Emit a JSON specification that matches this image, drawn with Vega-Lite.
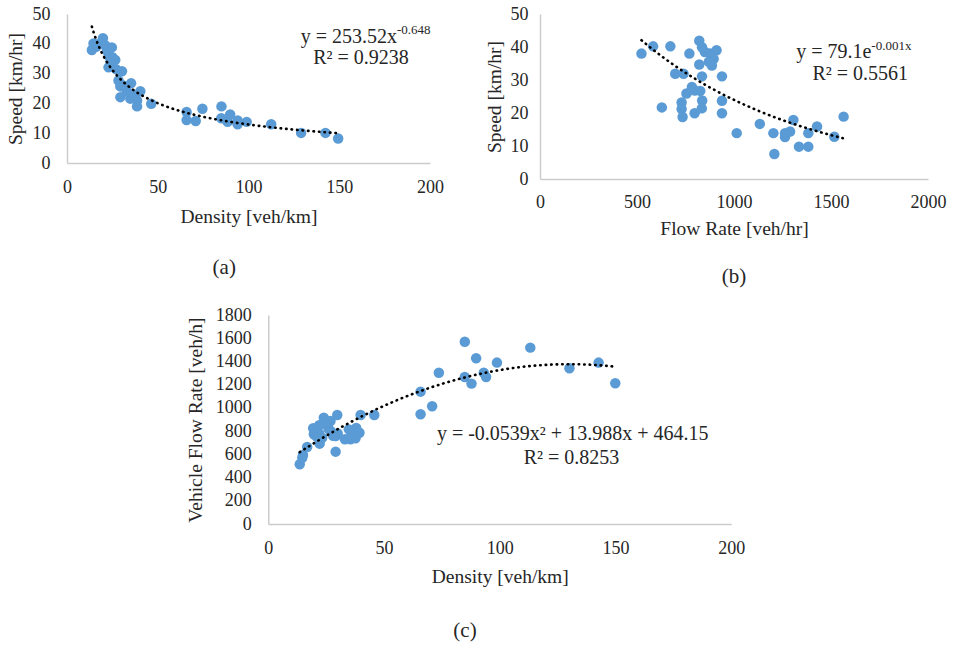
{
  "$schema": "https://vega.github.io/schema/vega-lite/v6.json",
  "padding": 5,
  "config": {
    "view": {"stroke": null},
    "font": "Liberation Serif",
    "axis": {"grid": false, "ticks": false, "tickSize": 0, "domainColor": "#cccccc", "domainWidth": 1.5, "labelFont": "Liberation Serif", "titleFont": "Liberation Serif", "labelFontSize": 18, "titleFontSize": 19.5, "titleFontWeight": "normal", "labelColor": "#262626", "titleColor": "#262626", "format": "d", "labelFlush": false, "labelBound": false},
    "title": {"font": "Liberation Serif", "fontSize": 21, "fontWeight": "normal", "color": "#262626"},
    "text": {"font": "Liberation Serif", "color": "#262626"}
  },
  "datasets": {
    "a": [
      {"density": 13.7, "speed": 37.9}, {"density": 14.6, "speed": 40.1}, {"density": 16, "speed": 39}, {"density": 19.8, "speed": 41.9},
      {"density": 18, "speed": 40}, {"density": 21, "speed": 39.5}, {"density": 22, "speed": 37.7}, {"density": 24.7, "speed": 38.8},
      {"density": 23, "speed": 36}, {"density": 25, "speed": 35.5}, {"density": 26.6, "speed": 34.6}, {"density": 24, "speed": 34},
      {"density": 22.9, "speed": 32.1}, {"density": 25, "speed": 32.5}, {"density": 27, "speed": 31.5}, {"density": 30.3, "speed": 30.8},
      {"density": 28.4, "speed": 27.7}, {"density": 29.4, "speed": 25.7}, {"density": 31, "speed": 26}, {"density": 33, "speed": 24},
      {"density": 35.3, "speed": 26.8}, {"density": 36, "speed": 23}, {"density": 40.4, "speed": 24.1}, {"density": 29.4, "speed": 22.1},
      {"density": 34.9, "speed": 21.6}, {"density": 37, "speed": 22}, {"density": 38.6, "speed": 19}, {"density": 38.6, "speed": 21},
      {"density": 46.4, "speed": 19.9}, {"density": 65.9, "speed": 17.1}, {"density": 65.9, "speed": 14.4}, {"density": 70.9, "speed": 14.1},
      {"density": 74.6, "speed": 18.2}, {"density": 85.1, "speed": 19}, {"density": 85, "speed": 15}, {"density": 89.9, "speed": 16.3},
      {"density": 88.5, "speed": 13.8}, {"density": 94, "speed": 13}, {"density": 94, "speed": 14.3}, {"density": 99, "speed": 13.8},
      {"density": 112.5, "speed": 13}, {"density": 129, "speed": 10.1}, {"density": 142.4, "speed": 10.1}, {"density": 149.4, "speed": 8.2}
    ],
    "b": [
      {"flow": 523, "speed": 38}, {"flow": 583, "speed": 40.2}, {"flow": 672, "speed": 40.2}, {"flow": 770, "speed": 38},
      {"flow": 821, "speed": 41.9}, {"flow": 835, "speed": 39.9}, {"flow": 850, "speed": 38.5}, {"flow": 877, "speed": 38},
      {"flow": 910, "speed": 39}, {"flow": 895, "speed": 36.4}, {"flow": 886, "speed": 34.4}, {"flow": 870, "speed": 35.5},
      {"flow": 821, "speed": 34.7}, {"flow": 697, "speed": 31.9}, {"flow": 740, "speed": 31.9}, {"flow": 835, "speed": 31.1},
      {"flow": 938, "speed": 31.1}, {"flow": 783, "speed": 27.9}, {"flow": 755, "speed": 25.9}, {"flow": 826, "speed": 26.7},
      {"flow": 798, "speed": 26.8}, {"flow": 938, "speed": 23.7}, {"flow": 836, "speed": 23.8}, {"flow": 730, "speed": 23.2},
      {"flow": 730, "speed": 21.2}, {"flow": 735, "speed": 18.8}, {"flow": 797, "speed": 19.9}, {"flow": 834, "speed": 21.4},
      {"flow": 938, "speed": 19.9}, {"flow": 628, "speed": 21.7}, {"flow": 1014, "speed": 13.9}, {"flow": 1133, "speed": 16.7},
      {"flow": 1203, "speed": 13.9}, {"flow": 1208, "speed": 7.6}, {"flow": 1263, "speed": 13.9}, {"flow": 1263, "speed": 12.7},
      {"flow": 1289, "speed": 14.4}, {"flow": 1306, "speed": 17.9}, {"flow": 1335, "speed": 9.8}, {"flow": 1383, "speed": 9.8},
      {"flow": 1383, "speed": 13.9}, {"flow": 1428, "speed": 15.9}, {"flow": 1517, "speed": 12.8}, {"flow": 1565, "speed": 18.9}
    ],
    "c": [
      {"density": 13.6, "flow": 514}, {"density": 14.7, "flow": 571}, {"density": 15, "flow": 594}, {"density": 16.8, "flow": 663},
      {"density": 19.4, "flow": 824}, {"density": 19.7, "flow": 773}, {"density": 20, "flow": 800}, {"density": 21, "flow": 750},
      {"density": 22.2, "flow": 692}, {"density": 22, "flow": 780}, {"density": 23.3, "flow": 743}, {"density": 22, "flow": 850},
      {"density": 24, "flow": 916}, {"density": 24, "flow": 870}, {"density": 25.5, "flow": 858}, {"density": 26.9, "flow": 887},
      {"density": 26, "flow": 820}, {"density": 27, "flow": 800}, {"density": 28, "flow": 760}, {"density": 29.8, "flow": 939},
      {"density": 29.1, "flow": 623}, {"density": 29.1, "flow": 758}, {"density": 30, "flow": 780}, {"density": 33.1, "flow": 729},
      {"density": 35.5, "flow": 729}, {"density": 34.8, "flow": 815}, {"density": 36, "flow": 770}, {"density": 37.7, "flow": 738},
      {"density": 38, "flow": 827}, {"density": 39.4, "flow": 786}, {"density": 39.9, "flow": 939}, {"density": 45.8, "flow": 939},
      {"density": 65.8, "flow": 1140}, {"density": 65.8, "flow": 945}, {"density": 70.8, "flow": 1014}, {"density": 73.7, "flow": 1303},
      {"density": 84.9, "flow": 1570}, {"density": 84.9, "flow": 1266}, {"density": 87.8, "flow": 1209}, {"density": 89.8, "flow": 1427},
      {"density": 93.1, "flow": 1303}, {"density": 94.1, "flow": 1266}, {"density": 98.8, "flow": 1390}, {"density": 113.2, "flow": 1519},
      {"density": 130.1, "flow": 1341}, {"density": 142.7, "flow": 1390}, {"density": 149.9, "flow": 1212}
    ]
  },
  "center": true,
  "spacing": 19,
  "vconcat": [
    {
      "spacing": 40,
      "hconcat": [
        {
          "width": 363, "height": 149,
          "title": {"text": "(a)", "orient": "bottom", "offset": 31, "frame": "bounds"},
          "data": {"name": "a"},
          "encoding": {
            "x": {"field": "density", "type": "quantitative", "scale": {"domain": [0, 200]}, "axis": {"title": "Density [veh/km]", "values": [0, 50, 100, 150, 200], "labelOverlap": {"signal": "false"}, "labelFlush": false, "labelPadding": 15, "titlePadding": 11}},
            "y": {"field": "speed", "type": "quantitative", "scale": {"domain": [0, 50]}, "axis": {"title": "Speed [km/hr]", "values": [0, 10, 20, 30, 40, 50], "labelOverlap": {"signal": "false"}, "labelFlush": false, "labelPadding": 17, "titlePadding": 7}}
          },
          "layer": [
            {
              "mark": {"type": "circle", "size": 110, "color": "#5B9BD5", "opacity": 1}
            },
            {
              "transform": [{"regression": "speed", "on": "density", "method": "pow"}],
              "mark": {"type": "line", "color": "black", "strokeWidth": 2.6, "strokeDash": [0.5, 5], "strokeCap": "round"}
            },
            {
              "mark": {"type": "text", "text": "y = 253.52x", "align": "right", "baseline": "middle", "fontSize": 20},
              "transform": [{"filter": "datum.density == 149.4"}],
              "encoding": {"x": {"datum": 181.8, "type": "quantitative"}, "y": {"datum": 42.4, "type": "quantitative"}}
            },
            {
              "mark": {"type": "text", "text": "-0.648", "align": "left", "baseline": "middle", "fontSize": 13},
              "transform": [{"filter": "datum.density == 149.4"}],
              "encoding": {"x": {"datum": 181.8, "type": "quantitative"}, "y": {"datum": 44.6, "type": "quantitative"}}
            },
            {
              "mark": {"type": "text", "text": "R² = 0.9238", "align": "center", "baseline": "middle", "fontSize": 20},
              "transform": [{"filter": "datum.density == 149.4"}],
              "encoding": {"x": {"datum": 162, "type": "quantitative"}, "y": {"datum": 35.3, "type": "quantitative"}}
            }
          ]
        },
        {
          "width": 388, "height": 165,
          "title": {"text": "(b)", "orient": "bottom", "offset": 28, "frame": "group"},
          "data": {"name": "b"},
          "encoding": {
            "x": {"field": "flow", "type": "quantitative", "scale": {"domain": [0, 2000]}, "axis": {"title": "Flow Rate [veh/hr]", "values": [0, 500, 1000, 1500, 2000], "labelOverlap": {"signal": "false"}, "labelFlush": false, "labelPadding": 14, "titlePadding": 8}},
            "y": {"field": "speed", "type": "quantitative", "scale": {"domain": [0, 50]}, "axis": {"title": "Speed [km/hr]", "values": [0, 10, 20, 30, 40, 50], "labelOverlap": {"signal": "false"}, "labelFlush": false, "labelPadding": 12, "titlePadding": 6}}
          },
          "layer": [
            {
              "mark": {"type": "circle", "size": 110, "color": "#5B9BD5", "opacity": 1}
            },
            {
              "transform": [{"regression": "speed", "on": "flow", "method": "exp"}],
              "mark": {"type": "line", "color": "black", "strokeWidth": 2.6, "strokeDash": [0.5, 5], "strokeCap": "round"}
            },
            {
              "mark": {"type": "text", "text": "y = 79.1e", "align": "right", "baseline": "middle", "fontSize": 20},
              "transform": [{"filter": "datum.flow == 1565"}],
              "encoding": {"x": {"datum": 1708, "type": "quantitative"}, "y": {"datum": 38.4, "type": "quantitative"}}
            },
            {
              "mark": {"type": "text", "text": "-0.001x", "align": "left", "baseline": "middle", "fontSize": 13},
              "transform": [{"filter": "datum.flow == 1565"}],
              "encoding": {"x": {"datum": 1708, "type": "quantitative"}, "y": {"datum": 40.3, "type": "quantitative"}}
            },
            {
              "mark": {"type": "text", "text": "R² = 0.5561", "align": "center", "baseline": "middle", "fontSize": 20},
              "transform": [{"filter": "datum.flow == 1565"}],
              "encoding": {"x": {"datum": 1651, "type": "quantitative"}, "y": {"datum": 31.8, "type": "quantitative"}}
            }
          ]
        }
      ]
    },
    {
      "width": 463, "height": 209,
      "title": {"text": "(c)", "orient": "bottom", "offset": 34, "frame": "bounds"},
      "data": {"name": "c"},
      "encoding": {
        "x": {"field": "density", "type": "quantitative", "scale": {"domain": [0, 200]}, "axis": {"title": "Density [veh/km]", "values": [0, 50, 100, 150, 200], "labelOverlap": {"signal": "false"}, "labelFlush": false, "labelPadding": 15, "titlePadding": 10}},
        "y": {"field": "flow", "type": "quantitative", "scale": {"domain": [0, 1800]}, "axis": {"title": "Vehicle Flow Rate [veh/h]", "values": [0, 200, 400, 600, 800, 1000, 1200, 1400, 1600, 1800], "labelOverlap": {"signal": "false"}, "labelFlush": false, "labelPadding": 17, "titlePadding": 10}}
      },
      "layer": [
        {
          "mark": {"type": "circle", "size": 110, "color": "#5B9BD5", "opacity": 1}
        },
        {
          "transform": [{"regression": "flow", "on": "density", "method": "poly", "order": 2}],
          "mark": {"type": "line", "color": "black", "strokeWidth": 2.6, "strokeDash": [0.5, 5], "strokeCap": "round"}
        },
        {
          "mark": {"type": "text", "text": "y = -0.0539x² + 13.988x + 464.15", "align": "center", "baseline": "middle", "fontSize": 20},
          "transform": [{"filter": "datum.density == 149.9"}],
          "encoding": {"x": {"datum": 131.5, "type": "quantitative"}, "y": {"datum": 772, "type": "quantitative"}}
        },
        {
          "mark": {"type": "text", "text": "R² = 0.8253", "align": "center", "baseline": "middle", "fontSize": 20},
          "transform": [{"filter": "datum.density == 149.9"}],
          "encoding": {"x": {"datum": 131, "type": "quantitative"}, "y": {"datum": 571, "type": "quantitative"}}
        }
      ]
    }
  ]
}
